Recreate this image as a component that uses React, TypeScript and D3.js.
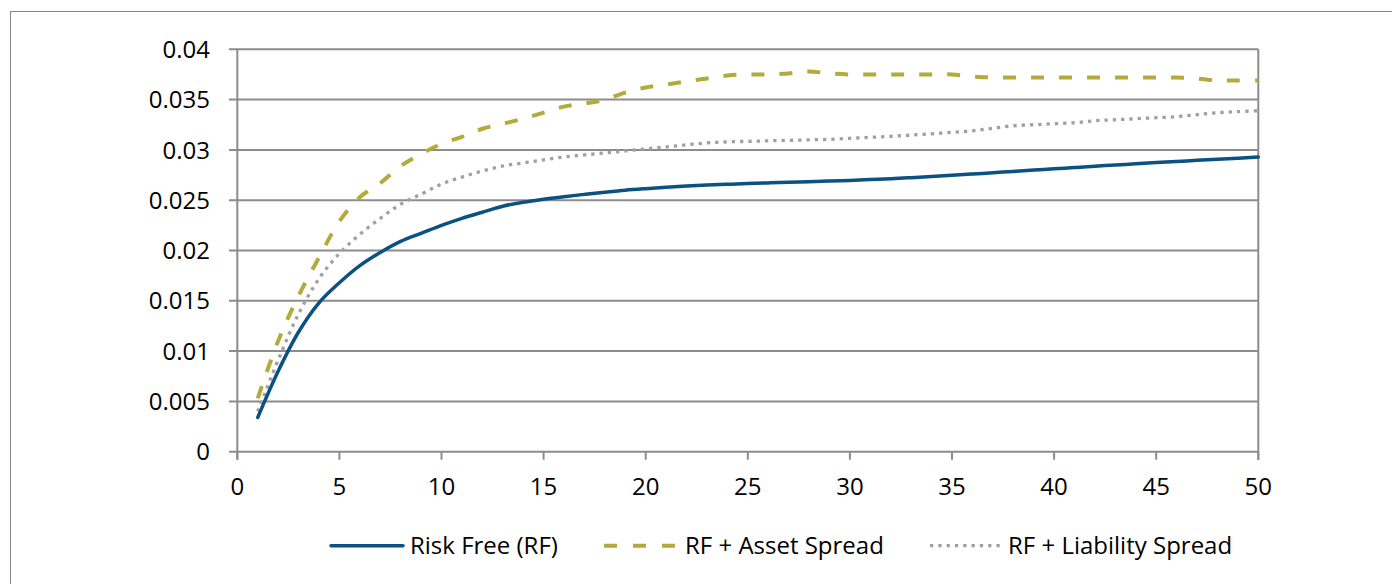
import React from "react";
import * as d3 from "d3";

const years: number[] = Array.from({ length: 50 }, (_, i) => i + 1);

const riskFree: number[] = [
  0.0034, 0.008, 0.0119, 0.0148, 0.0168, 0.0185, 0.0198, 0.0209, 0.0217, 0.0225,
  0.0232, 0.0238, 0.0244, 0.0248, 0.0251, 0.02535, 0.02558, 0.0258, 0.026, 0.02615,
  0.02628, 0.0264, 0.0265, 0.02658, 0.02665, 0.02672, 0.02678, 0.02684, 0.0269, 0.02697,
  0.02705, 0.02714, 0.02724, 0.02735, 0.02747, 0.0276, 0.02773, 0.02786, 0.02799, 0.02812,
  0.02825, 0.02838, 0.0285, 0.02862, 0.02874, 0.02885, 0.02896, 0.02907, 0.02918, 0.02929,
];

const assetSpread: number[] = [
  0.0053, 0.011, 0.0155, 0.0193, 0.0229, 0.0253, 0.0267, 0.0284, 0.0296, 0.0306,
  0.0313, 0.0321, 0.0326, 0.0331, 0.0337, 0.0343, 0.0346, 0.035, 0.0357, 0.0362,
  0.0365, 0.0368, 0.0371, 0.0374, 0.0375, 0.0375, 0.0376, 0.0378, 0.0376, 0.0375,
  0.0375, 0.0375, 0.0375, 0.0375, 0.0375, 0.0373, 0.0372, 0.0372, 0.0372, 0.0372,
  0.0372, 0.0372, 0.0372, 0.0372, 0.0372, 0.0372, 0.0371, 0.0369, 0.0369, 0.0369,
];

const liabilitySpread: number[] = [
  0.004, 0.0091, 0.0137, 0.0172, 0.0197, 0.0216, 0.0232, 0.0246, 0.0256, 0.0266,
  0.0273, 0.0279, 0.0284, 0.0287, 0.029, 0.0293, 0.0295, 0.0297, 0.0299, 0.0301,
  0.0303, 0.0305, 0.0307, 0.0308, 0.03085, 0.0309, 0.03095, 0.031, 0.03105, 0.03115,
  0.03125, 0.03135, 0.03147, 0.0316, 0.03175, 0.0319, 0.03215, 0.0324, 0.0325, 0.0326,
  0.0327, 0.0329, 0.033, 0.0331, 0.0332, 0.0333, 0.0335, 0.0337, 0.0338, 0.0339,
];

const yTicks: number[] = [0, 0.005, 0.01, 0.015, 0.02, 0.025, 0.03, 0.035, 0.04];
const yTickLabels: string[] = ["0", "0.005", "0.01", "0.015", "0.02", "0.025", "0.03", "0.035", "0.04"];
const xTicks: number[] = [0, 5, 10, 15, 20, 25, 30, 35, 40, 45, 50];
const seriesNames: string[] = ["Risk Free (RF)", "RF + Asset Spread", "RF + Liability Spread"];

const W = 1392;
const H = 584;
const FONT = "'Open Sans', sans-serif";
const GRID = "#8c8c8c";

const COLORS = ["#0b5181", "#b3aa3a", "#a0a0a0"];

export default function App() {
  const x = d3.scaleLinear().domain([0, 50]).range([237.3, 1258.3]);
  const y = d3.scaleLinear().domain([0, 0.04]).range([451.7, 49.3]);

  const series = [riskFree, assetSpread, liabilitySpread];
  const line = (vals: number[]) =>
    d3
      .line<number>()
      .x((_, i) => x(years[i]))
      .y((v) => y(v))
      .curve(d3.curveCatmullRom.alpha(0.5))(vals) || "";

  const styles = [
    { width: 3.5, dash: undefined as string | undefined, cap: "round" as const },
    { width: 4, dash: "13 15", cap: "butt" as const },
    { width: 3.3, dash: "3.3 5", cap: "butt" as const },
  ];

  const legend = [
    { x1: 331, x2: 403, tx: 410 },
    { x1: 604, x2: 676, tx: 685 },
    { x1: 930, x2: 1000, tx: 1008 },
  ];
  const legendStyles = [
    { dash: undefined as string | undefined },
    { dash: "13 16" },
    { dash: "3.3 5" },
  ];

  return (
    <svg
      width={W}
      height={H}
      style={{ position: "fixed", left: 0, top: 0, background: "#fff" }}
      fontFamily={FONT}
    >
      <rect x={0} y={0} width={W} height={H} fill="#fff" />
      <rect x={10.5} y={11.5} width={W + 20} height={H + 20} fill="none" stroke="#868686" strokeWidth={1} />

      {/* gridlines */}
      {yTicks.map((t, i) => (
        <g key={"g" + i}>
          <line x1={229} x2={x(50)} y1={y(t)} y2={y(t)} stroke={GRID} strokeWidth={2} />
          <text x={210} y={y(t)} dy="0.36em" textAnchor="end" fontSize={24} fill="#000">
            {yTickLabels[i]}
          </text>
        </g>
      ))}

      {/* axes */}
      <line x1={x(0)} x2={x(0)} y1={y(0.04)} y2={y(0) + 8} stroke={GRID} strokeWidth={2} />
      <line x1={x(50)} x2={x(50)} y1={y(0.04)} y2={y(0) + 8} stroke={GRID} strokeWidth={2} />
      {xTicks.map((t) => (
        <g key={"x" + t}>
          <line x1={x(t)} x2={x(t)} y1={y(0)} y2={y(0) + 8} stroke={GRID} strokeWidth={2} />
          <text x={x(t)} y={495} textAnchor="middle" fontSize={24} fill="#000">
            {t}
          </text>
        </g>
      ))}

      {/* series, drawn back to front */}
      {[2, 1, 0].map((si) => (
        <path
          key={"s" + si}
          d={line(series[si])}
          fill="none"
          stroke={COLORS[si]}
          strokeWidth={styles[si].width}
          strokeDasharray={styles[si].dash}
          strokeLinecap={styles[si].cap}
          strokeLinejoin="round"
        />
      ))}

      {/* legend */}
      {seriesNames.map((name, i) => (
        <g key={"l" + i}>
          <line
            x1={legend[i].x1}
            x2={legend[i].x2}
            y1={545.7}
            y2={545.7}
            stroke={COLORS[i]}
            strokeWidth={styles[i].width}
            strokeDasharray={legendStyles[i].dash}
            strokeLinecap={i === 0 ? "round" : "butt"}
          />
          <text x={legend[i].tx} y={554.3} fontSize={24} fill="#000">
            {name}
          </text>
        </g>
      ))}
    </svg>
  );
}
